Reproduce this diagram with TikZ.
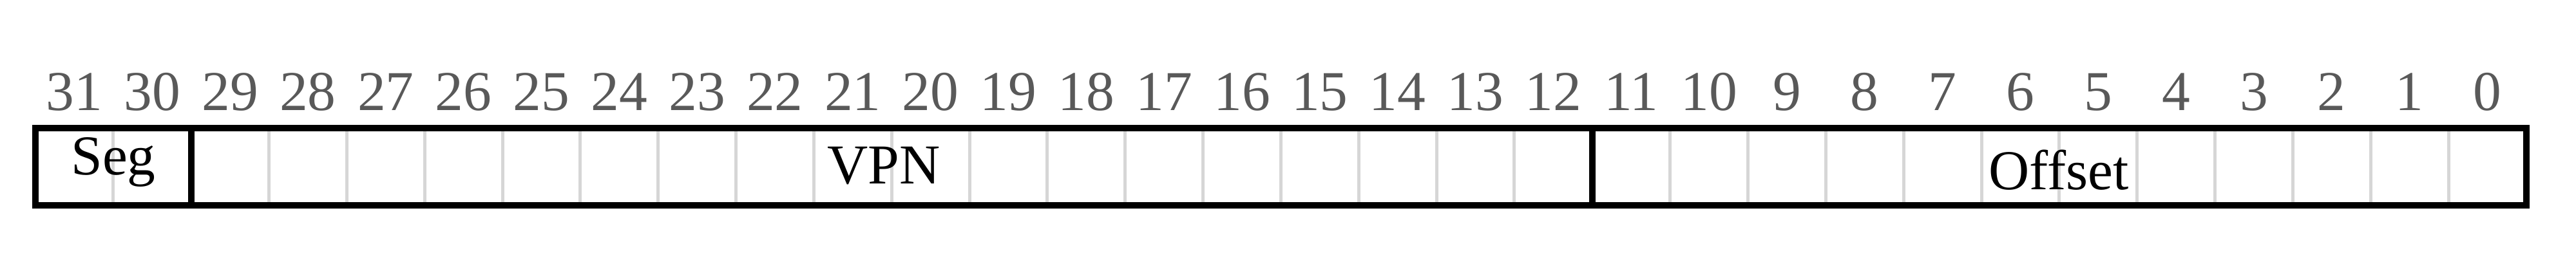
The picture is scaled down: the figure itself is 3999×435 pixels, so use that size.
\documentclass[tikz,border=0pt]{standalone}
\usepackage{fontspec}
\setmainfont{Liberation Serif}
\definecolor{numgray}{HTML}{595959}
\definecolor{cellgray}{HTML}{D6D6D6}
\begin{document}
\begin{tikzpicture}[x=0.2pt,y=-0.2pt,
  bitnum/.style={text=numgray, font=\fontsize{17.5}{20}\selectfont, anchor=base, inner sep=0pt},
  fieldlabel/.style={text=black, font=\fontsize{17.5}{20}\selectfont, anchor=base, inner sep=0pt},
  cellline/.style={draw=cellgray, line width=1pt},
  border/.style={draw=black, line width=2pt}]
\useasboundingbox (0,0) rectangle (3999,435);
\def\cw{120.84}
\foreach \k in {1,...,31} {\draw[cellline] ({55+\k*\cw},199) -- ({55+\k*\cw},319);}
\foreach \k in {0,...,31} {\pgfmathtruncatemacro\bitidx{31-\k}
  \node[bitnum] (b\bitidx) at ({55+(\k+0.5)*\cw},172) {\bitidx};}
\draw[border] (55,199) rectangle (3922,319);
\draw[border] (297,199) -- (297,319);
\draw[border] (2472,199) -- (2472,319);
\node[fieldlabel] (seg) at (176,272) {Seg};
\node[fieldlabel] (vpn) at (1372,286) {VPN};
\node[fieldlabel] (off) at (3196,295) {Offset};
\end{tikzpicture}
\end{document}
